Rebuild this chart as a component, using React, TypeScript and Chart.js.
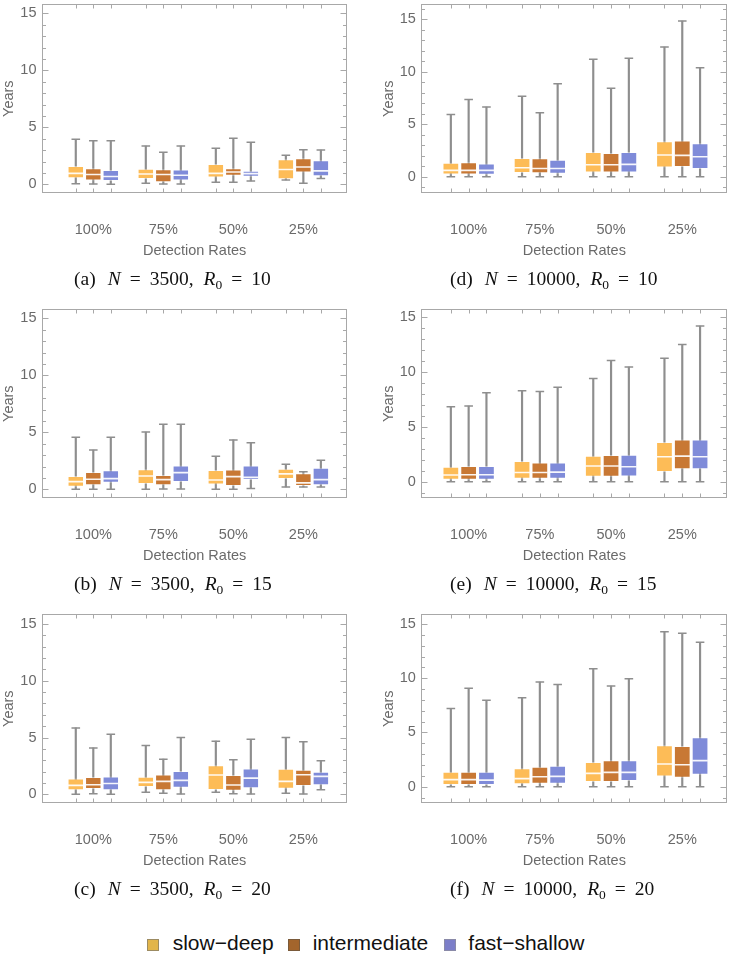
import React, { useEffect, useRef } from 'react';
import { Chart, registerables } from 'chart.js';

Chart.register(...registerables);

// [min, q1, median, q3, max] per detection rate (100%, 75%, 50%, 25%)
type Stat = [number, number, number, number, number];

const rates = ['100%', '75%', '50%', '25%'];
const strategyNames = ['slow\u2212deep', 'intermediate', 'fast\u2212shallow'];
const yTickValues = [0, 5, 10, 15];

// (a) N = 3500, R0 = 10
const a_slowDeep: Stat[] = [[0.05, 0.53, 0.96, 1.61, 3.95], [0.09, 0.47, 0.9, 1.37, 3.36], [0.18, 0.6, 0.96, 1.78, 3.16], [0.38, 0.44, 1.3, 2.2, 2.55]];
const a_intermediate: Stat[] = [[0.03, 0.33, 0.86, 1.4, 3.83], [0.03, 0.19, 0.86, 1.32, 2.81], [0.19, 0.74, 1.08, 1.4, 4.04], [0.1, 1.03, 1.52, 2.28, 3.04]];
const a_fastShallow: Stat[] = [[0.0, 0.29, 0.68, 1.26, 3.83], [0.03, 0.33, 0.8, 1.29, 3.36], [0.3, 0.67, 0.94, 1.18, 3.68], [0.5, 0.7, 1.18, 2.12, 3.0]];

// (b) N = 3500, R0 = 15
const b_slowDeep: Stat[] = [[0.0, 0.23, 0.67, 1.17, 4.56], [0.0, 0.47, 1.17, 1.75, 5.03], [0.0, 0.41, 0.82, 1.7, 2.89], [0.2, 0.91, 1.35, 1.81, 2.19]];
const b_intermediate: Stat[] = [[0.0, 0.35, 0.88, 1.52, 3.45], [0.03, 0.35, 0.85, 1.26, 5.7], [0.0, 0.29, 1.11, 1.73, 4.33], [0.2, 0.29, 0.56, 1.4, 1.55]];
const b_fastShallow: Stat[] = [[0.0, 0.58, 0.94, 1.67, 4.56], [0.03, 0.64, 1.46, 2.08, 5.7], [0.06, 0.82, 1.05, 2.08, 4.09], [0.2, 0.35, 0.85, 1.9, 2.54]];

// (c) N = 3500, R0 = 20
const c_slowDeep: Stat[] = [[0.0, 0.35, 0.79, 1.4, 5.85], [0.18, 0.64, 1.05, 1.55, 4.3], [0.18, 0.38, 1.7, 2.57, 4.68], [0.09, 0.5, 1.14, 2.25, 5.0]];
const c_intermediate: Stat[] = [[0.06, 0.47, 0.85, 1.52, 4.09], [0.09, 0.35, 1.14, 1.75, 3.1], [0.06, 0.32, 0.82, 1.7, 3.04], [0.03, 0.73, 1.73, 2.16, 4.62]];
const c_fastShallow: Stat[] = [[0.0, 0.35, 0.96, 1.58, 5.29], [0.03, 0.58, 1.23, 2.05, 5.0], [0.03, 0.53, 1.43, 2.28, 4.85], [0.41, 0.79, 1.58, 1.99, 2.95]];

// (d) N = 10000, R0 = 10
const d_slowDeep: Stat[] = [[0, 0.22, 0.6, 1.33, 5.94], [0, 0.35, 0.86, 1.78, 7.66], [0, 0.41, 1.14, 2.35, 11.19], [0, 0.89, 2.07, 3.37, 12.36]];
const d_intermediate: Stat[] = [[0, 0.22, 0.6, 1.37, 7.37], [0, 0.32, 0.79, 1.75, 6.1], [0, 0.41, 1.14, 2.26, 8.42], [0, 0.92, 2.03, 3.46, 14.84]];
const d_fastShallow: Stat[] = [[0, 0.19, 0.6, 1.27, 6.64], [0, 0.29, 0.79, 1.62, 8.87], [0, 0.41, 1.18, 2.35, 11.28], [0, 0.73, 1.91, 3.18, 10.39]];

// (e) N = 10000, R0 = 15
const e_slowDeep: Stat[] = [[0, 0.18, 0.61, 1.37, 6.85], [0, 0.27, 0.85, 1.89, 8.31], [0, 0.46, 1.43, 2.37, 9.43], [0, 0.88, 2.28, 3.62, 11.26]];
const e_intermediate: Stat[] = [[0, 0.18, 0.64, 1.43, 6.91], [0, 0.27, 0.85, 1.76, 8.24], [0, 0.46, 1.43, 2.43, 11.07], [0, 1.13, 2.34, 3.86, 12.53]];
const e_fastShallow: Stat[] = [[0, 0.18, 0.64, 1.43, 8.12], [0, 0.27, 0.88, 1.76, 8.61], [0, 0.49, 1.37, 2.46, 10.47], [0, 1.13, 2.28, 3.86, 14.21]];

// (f) N = 10000, R0 = 20
const f_slowDeep: Stat[] = [[0, 0.15, 0.65, 1.38, 7.22], [0, 0.22, 0.74, 1.69, 8.21], [0, 0.43, 1.23, 2.27, 10.88], [0, 0.95, 2.09, 3.81, 14.29]];
const f_intermediate: Stat[] = [[0, 0.15, 0.65, 1.38, 9.07], [0, 0.28, 0.92, 1.84, 9.65], [0, 0.43, 1.32, 2.43, 9.28], [0, 0.83, 2.03, 3.75, 14.14]];
const f_fastShallow: Stat[] = [[0, 0.15, 0.61, 1.38, 7.96], [0, 0.28, 0.95, 1.94, 9.41], [0, 0.52, 1.32, 2.43, 9.96], [0, 1.11, 2.4, 4.55, 13.31]];

const boxColors = ['#FDBC57', '#C87834', '#7F8BD9'];
const legendColors = ['#E2B54A', '#A3652C', '#7C7EC9'];
const legendBorders = ['#9C8B62', '#7A5A3A', '#8A8AA8'];
const textGray = '#6a6a6a';
const whiskerGray = '#8e8e8e';
const frameGray = '#a8a8a8';

type Panel = {
  tag: string; n: string; r0: string; stats: Stat[][];
  yMin: number; yMax: number; col: number; row: number;
};

const panels: Panel[] = [
  { tag: 'a', n: '3500', r0: '10', stats: [a_slowDeep, a_intermediate, a_fastShallow], yMin: -0.79, yMax: 15.82, col: 0, row: 0 },
  { tag: 'b', n: '3500', r0: '15', stats: [b_slowDeep, b_intermediate, b_fastShallow], yMin: -0.79, yMax: 15.82, col: 0, row: 1 },
  { tag: 'c', n: '3500', r0: '20', stats: [c_slowDeep, c_intermediate, c_fastShallow], yMin: -0.79, yMax: 15.88, col: 0, row: 2 },
  { tag: 'd', n: '10000', r0: '10', stats: [d_slowDeep, d_intermediate, d_fastShallow], yMin: -1.58, yMax: 16.46, col: 1, row: 0 },
  { tag: 'e', n: '10000', r0: '15', stats: [e_slowDeep, e_intermediate, e_fastShallow], yMin: -1.51, yMax: 15.76, col: 1, row: 1 },
  { tag: 'f', n: '10000', r0: '20', stats: [f_slowDeep, f_intermediate, f_fastShallow], yMin: -1.53, yMax: 15.92, col: 1, row: 2 },
];

// layout per column
const colLayout = [
  { canvasLeft: 0, canvasWidth: 365, axisWidth: 42, padRight: 17.7, xMin: -1.93, xMax: 15.51, titlePad: 0, captionLeft: 74 },
  { canvasLeft: 379, canvasWidth: 352, axisWidth: 42.3, padRight: 3.7, xMin: -1.66, xMax: 15.53, titlePad: 1.2, captionLeft: 450 },
];
const rowTop = [0, 305, 610];
const canvasHeight = 270;
const FONT = '"Liberation Sans", Arial, sans-serif';

const boxPos = (g: number, s: number) => g * 4 + s;

const frameTicksPlugin = {
  id: 'frameTicks',
  beforeDatasetsDraw(chart: any) {
    const { ctx, chartArea } = chart;
    const xs = chart.scales.x;
    const ys = chart.scales.y;
    const l = Math.round(chartArea.left) + 0.5;
    const r = Math.round(chartArea.right) - 0.5;
    const t = Math.round(chartArea.top) + 0.5;
    const b = Math.round(chartArea.bottom) - 0.5;
    ctx.save();
    ctx.strokeStyle = frameGray;
    ctx.lineWidth = 1;
    ctx.strokeRect(l, t, r - l, b - t);
    ctx.beginPath();
    for (let v = Math.ceil(ys.min); v <= Math.floor(ys.max); v++) {
      const py = Math.round(ys.getPixelForValue(v)) + 0.5;
      const len = v % 5 === 0 ? 6 : 3.5;
      ctx.moveTo(l, py); ctx.lineTo(l + len, py);
      ctx.moveTo(r, py); ctx.lineTo(r - len, py);
    }
    for (let g = 0; g < rates.length; g++) {
      for (let s = 0; s < strategyNames.length; s++) {
        const px = Math.round(xs.getPixelForValue(boxPos(g, s))) + 0.5;
        ctx.moveTo(px, t); ctx.lineTo(px, t + 4);
        ctx.moveTo(px, b); ctx.lineTo(px, b - 4);
      }
    }
    ctx.stroke();
    ctx.restore();
  },
};

function buildConfig(p: Panel): any {
  const lay = colLayout[p.col];
  const whiskers = p.stats.map((st, s) => ({
    type: 'bar',
    data: st.map((v, g) => ({ x: boxPos(g, s), y: [v[0], v[4]] })),
    backgroundColor: whiskerGray,
    borderWidth: 0,
    grouped: false,
    categoryPercentage: 1,
    barPercentage: 1,
    maxBarThickness: 1.5,
    order: 3,
  }));
  const caps = {
    type: 'scatter',
    data: p.stats.flatMap((st, s) => st.flatMap((v, g) => [{ x: boxPos(g, s), y: v[0] }, { x: boxPos(g, s), y: v[4] }])),
    pointStyle: 'line',
    pointRadius: 4.3,
    pointBorderColor: whiskerGray,
    pointBorderWidth: 1.5,
    order: 3,
  };
  const boxes = p.stats.map((st, s) => ({
    type: 'bar',
    label: strategyNames[s],
    data: st.map((v, g) => ({ x: boxPos(g, s), y: [v[1], v[3]] })),
    backgroundColor: boxColors[s],
    borderColor: 'rgba(255,255,255,0.45)',
    borderWidth: 1,
    borderSkipped: false,
    grouped: false,
    categoryPercentage: 1,
    barPercentage: 0.94,
    order: 2,
  }));
  const medians = {
    type: 'scatter',
    data: p.stats.flatMap((st, s) => st.map((v, g) => ({ x: boxPos(g, s), y: v[2] }))),
    pointStyle: 'line',
    pointRadius: 7.8,
    pointBorderColor: 'rgba(255,255,255,0.92)',
    pointBorderWidth: 1.6,
    order: 1,
  };
  return {
    type: 'bar',
    data: { datasets: [...whiskers, caps, ...boxes, medians] },
    options: {
      responsive: false,
      animation: false,
      events: [],
      layout: { autoPadding: false, padding: { top: 4, left: 0, right: lay.padRight, bottom: 0 } },
      plugins: { legend: { display: false }, tooltip: { enabled: false } },
      scales: {
        x: {
          type: 'linear',
          min: lay.xMin,
          max: lay.xMax,
          offset: false,
          grid: { display: false, drawTicks: false, offset: false },
          border: { display: false },
          afterBuildTicks: (sc: any) => {
            sc.ticks = rates.map((_, g) => ({ value: boxPos(g, 1) }));
          },
          ticks: {
            autoSkip: false,
            maxRotation: 0,
            padding: 28.3,
            color: textGray,
            font: { family: FONT, size: 14.5 },
            callback: (_v: any, i: number) => rates[i],
          },
          title: {
            display: true,
            text: 'Detection Rates',
            color: textGray,
            font: { family: FONT, size: 14.5 },
            padding: { top: 0, bottom: 10.6 },
          },
          afterFit: (sc: any) => {
            sc.height = canvasHeight - 193.3;
            sc.paddingLeft = 0;
            sc.paddingRight = 0;
          },
        },
        y: {
          type: 'linear',
          min: p.yMin,
          max: p.yMax,
          grid: { display: false, drawTicks: false },
          border: { display: false },
          afterBuildTicks: (sc: any) => {
            sc.ticks = yTickValues.map((v) => ({ value: v }));
          },
          ticks: {
            padding: 5.5,
            color: textGray,
            font: { family: FONT, size: 14.5 },
            callback: (v: any) => String(v),
          },
          title: {
            display: true,
            text: 'Years',
            color: textGray,
            font: { family: FONT, size: 14.5 },
            padding: { top: lay.titlePad, bottom: 0 },
          },
          afterFit: (sc: any) => {
            sc.width = lay.axisWidth;
            sc.paddingTop = 0;
            sc.paddingBottom = 0;
          },
        },
      },
    },
    plugins: [frameTicksPlugin],
  };
}

function BoxPanel({ panel }: { panel: Panel }) {
  const ref = useRef<HTMLCanvasElement>(null);
  const lay = colLayout[panel.col];
  useEffect(() => {
    if (!ref.current) return;
    const chart = new Chart(ref.current, buildConfig(panel));
    return () => chart.destroy();
  }, [panel]);
  return (
    <canvas
      ref={ref}
      width={lay.canvasWidth}
      height={canvasHeight}
      style={{ position: 'absolute', left: lay.canvasLeft, top: rowTop[panel.row], width: lay.canvasWidth, height: canvasHeight }}
    />
  );
}

function Caption({ panel }: { panel: Panel }) {
  const lay = colLayout[panel.col];
  const gap = (w: number) => <span style={{ display: 'inline-block', width: w }} />;
  return (
    <div
      style={{
        position: 'absolute',
        left: lay.captionLeft,
        top: rowTop[panel.row] + 268,
        font: '19.5px "Liberation Serif", "Times New Roman", serif',
        lineHeight: '21px',
        whiteSpace: 'nowrap',
        color: '#111',
      }}
    >
      ({panel.tag}){gap(12)}<i>N</i>{gap(9)}={gap(9)}{panel.n},{gap(10)}<i>R</i>
      <span style={{ fontSize: 13.5, position: 'relative', top: 4 }}>0</span>
      {gap(9)}={gap(9)}{panel.r0}
    </div>
  );
}

const legendItems = [
  { swatchLeft: 147, textLeft: 172.7 },
  { swatchLeft: 287.5, textLeft: 312.7 },
  { swatchLeft: 443.5, textLeft: 468.3 },
];

export default function App() {
  return (
    <div style={{ position: 'absolute', left: 0, top: 0, width: 731, height: 971, background: '#fff', overflow: 'hidden' }}>
      {panels.map((p) => (
        <BoxPanel key={p.tag} panel={p} />
      ))}
      {panels.map((p) => (
        <Caption key={'cap' + p.tag} panel={p} />
      ))}
      {strategyNames.map((name, i) => (
        <React.Fragment key={name}>
          <div
            style={{
              position: 'absolute',
              left: legendItems[i].swatchLeft,
              top: 939,
              width: 10,
              height: 10,
              background: legendColors[i],
              border: '1px solid ' + legendBorders[i],
            }}
          />
          <div
            style={{
              position: 'absolute',
              left: legendItems[i].textLeft,
              top: 931,
              font: '21px ' + FONT,
              lineHeight: '24px',
              whiteSpace: 'nowrap',
              color: '#111',
            }}
          >
            {name}
          </div>
        </React.Fragment>
      ))}
    </div>
  );
}
